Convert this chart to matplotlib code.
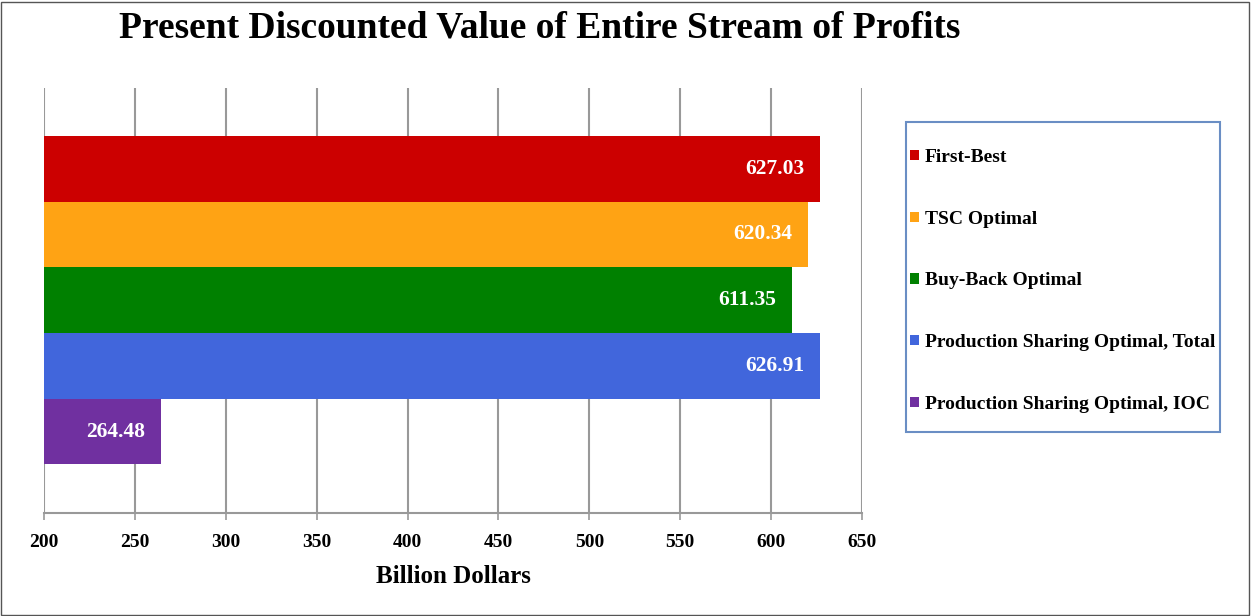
import matplotlib
matplotlib.use("Agg")
import matplotlib.pyplot as plt
from matplotlib.patches import Patch, Rectangle

categories = ["First-Best", "TSC Optimal", "Buy-Back Optimal",
              "Production Sharing Optimal, Total", "Production Sharing Optimal, IOC"]
values = [627.03, 620.34, 611.35, 626.91, 264.48]
colors = ["#CC0000", "#FFA314", "#008000", "#4166DC", "#7030A0"]
xticks = [200, 250, 300, 350, 400, 450, 500, 550, 600, 650]

plt.rcParams['font.family'] = ['Liberation Serif', 'DejaVu Serif']
plt.rcParams['font.weight'] = 'bold'

fig = plt.figure(figsize=(12.52, 6.16), dpi=100)
fig.patches.append(Rectangle((0.001, 0.002), 0.997, 0.995, transform=fig.transFigure,
                             fill=False, edgecolor="#555555", linewidth=1.0))
ax = fig.add_axes([44/1252, 1-513/616, (862-44)/1252, (513-88)/616])

ypos = list(range(len(values)))
bars = ax.barh(ypos, [v - 200 for v in values], left=200, height=1.0, color=colors,
               edgecolor='none', zorder=3)
for b, v in zip(bars, values):
    ax.annotate(f"{v:.2f}", xy=(b.get_x() + b.get_width(), b.get_y() + b.get_height()/2),
                xytext=(-16, 0), textcoords='offset pixels',
                ha='right', va='center', color='white', fontsize=15.5, fontweight='bold', zorder=4)

ax.set_xlim(200, 650)
ax.set_ylim(4.5 + 0.74, -0.5 - 0.73)
ax.set_xticks(xticks)
ax.set_xticklabels([str(t) for t in xticks], fontsize=14, fontweight='bold')
ax.set_yticks([])
ax.grid(axis='x', color='#999999', linewidth=1.5, zorder=0)
for s in ['top', 'right', 'left']:
    ax.spines[s].set_visible(False)
ax.spines['bottom'].set_color('#999999')
ax.spines['bottom'].set_linewidth(1.5)
ax.tick_params(axis='x', length=5, width=1.2, color='#999999', pad=10)
ax.set_xlabel("Billion Dollars", fontsize=18, fontweight='bold', labelpad=10)

fig.text(540/1252, 1-28/616, "Present Discounted Value of Entire Stream of Profits",
         ha='center', va='center', fontsize=27, fontweight='bold')

fig.patches.append(Rectangle((906/1252, 1-432/616), (1220-906)/1252, (432-122)/616,
                             transform=fig.transFigure, fill=False,
                             edgecolor='#6A8EC4', linewidth=1.5))
handles = [Patch(facecolor=c, edgecolor='none') for c in colors]
leg = fig.legend(handles, categories, loc='upper left',
                 bbox_to_anchor=(910/1252, 1-149/616), borderaxespad=0,
                 prop={'size': 14, 'weight': 'bold'}, labelspacing=2.3, borderpad=0,
                 handlelength=0.45, handleheight=0.45, handletextpad=0.3,
                 frameon=False)

fig.savefig("out.png", dpi=100)
